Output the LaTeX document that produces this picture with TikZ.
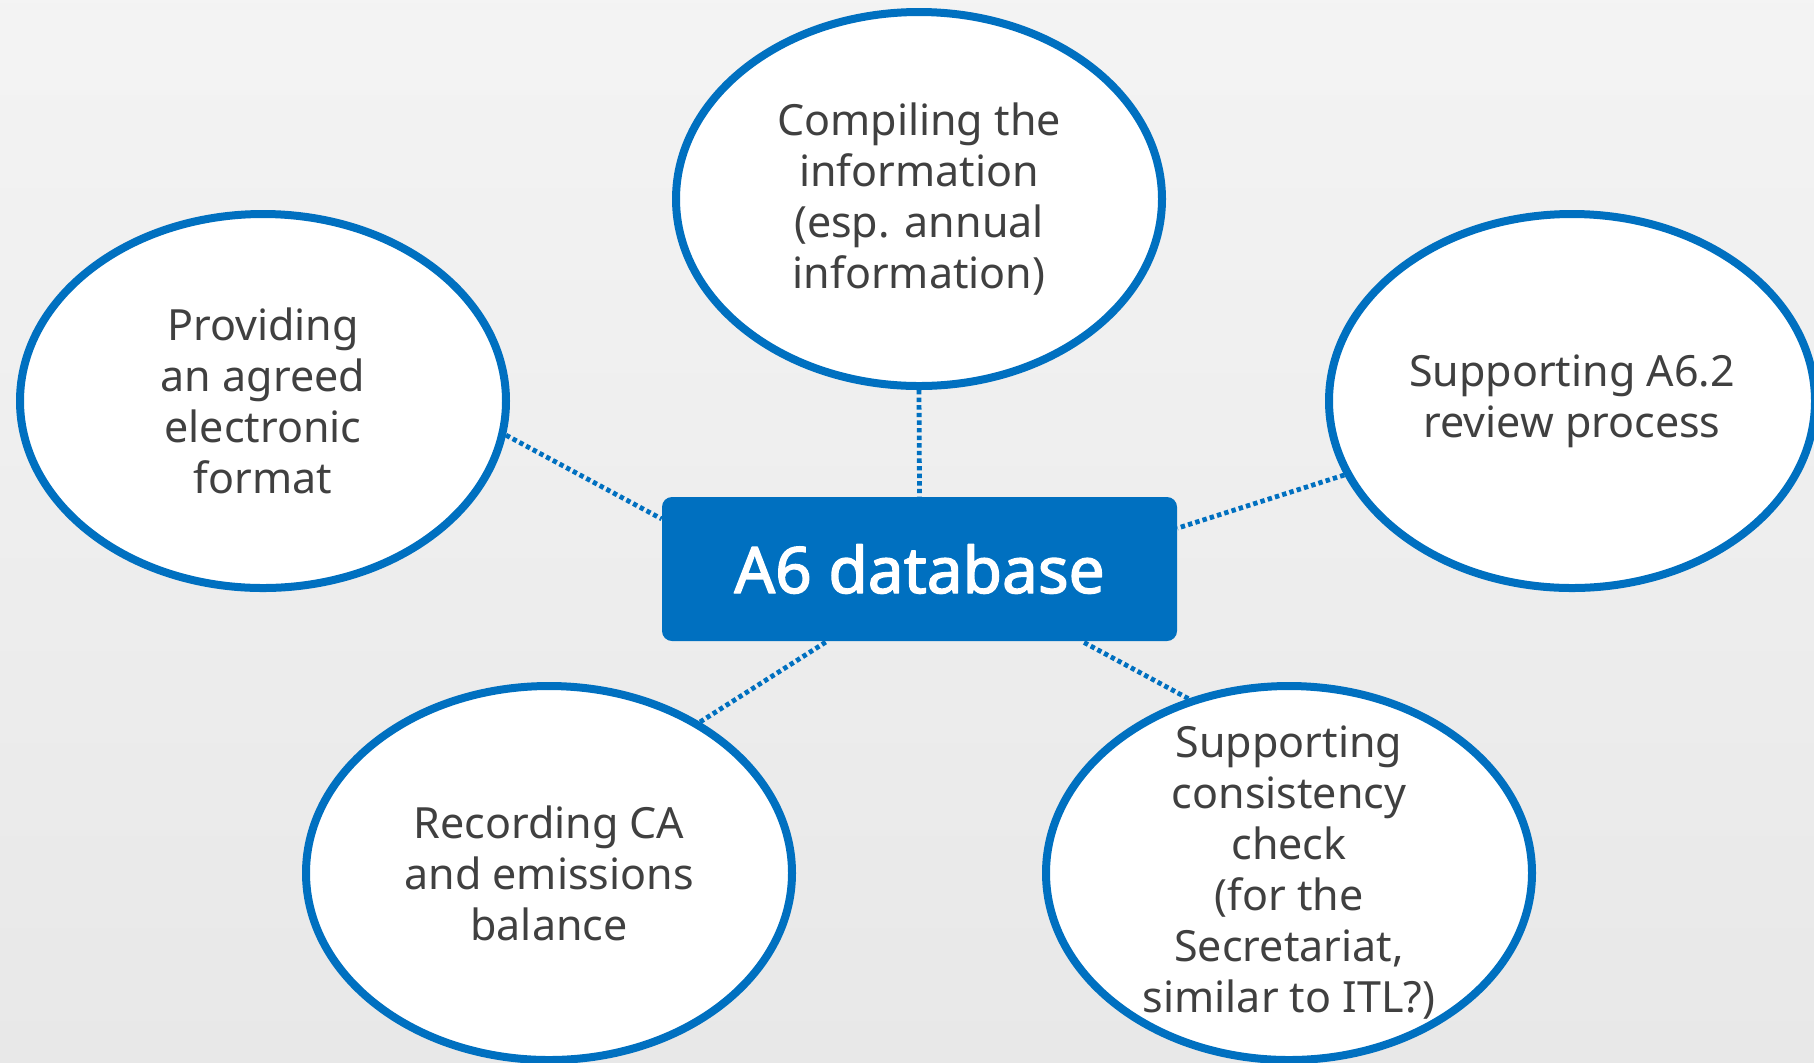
\documentclass[tikz,border=0pt]{standalone}
\usepackage{fontspec}
\setmainfont{Noto Sans}
\newfontfamily\hubfont{Noto Sans}[FakeBold=2.2]
\usetikzlibrary{shapes.geometric}
\definecolor{dbblue}{HTML}{0070C0}
\definecolor{txtgray}{HTML}{404040}

\begin{document}
\begin{tikzpicture}[x=0.5pt,y=-0.5pt,line join=round,
  bubble/.style={ellipse,draw=dbblue,line width=4pt,fill=white,
    minimum width=243pt,minimum height=187pt,inner sep=-30pt,
    align=center,text=txtgray,font=\fontsize{21.5}{25.5}\selectfont},
  hub/.style={rectangle,rounded corners=5pt,fill=dbblue,
    minimum width=257.5pt,minimum height=72pt,text=white,
    font=\hubfont\fontsize{32}{36}\selectfont},
  link/.style={draw=dbblue,line width=2.4pt,dash pattern=on 2.2pt off 1.6pt}]
  \useasboundingbox (0,0) rectangle (1814,1062);
  \fill[top color=gray!9,bottom color=gray!18] (0,0) rectangle (1814,1062);
  \clip (0,0) rectangle (1814,1062);

  \node[bubble] (compile) at (919,199) {Compiling the\\information\\(esp. annual\\information)};
  \node[bubble] (format) at (263,401) {Providing\\an agreed\\electronic\\format};
  \node[bubble] (review) at (1572,401) {Supporting A6.2\\review process};
  \node[bubble] (record) at (549,873) {Recording CA\\and emissions\\balance};
  \node[bubble] (check) at (1289,873) {Supporting\\consistency\\check\\ (for the\\Secretariat,\\similar to ITL?)};
  \node[hub] (db) at (919.5,569) {A6 database};

  % dotted links to the database
  \draw[link] (compile.south) -- (db.north);
  \draw[link] (format.-8) -- (db.169);
  \draw[link] (review.-162) -- (db.9);
  \draw[link] (record.45) -- (db.-142);
  \draw[link] (check.120) -- (db.-24);
\end{tikzpicture}
\end{document}
